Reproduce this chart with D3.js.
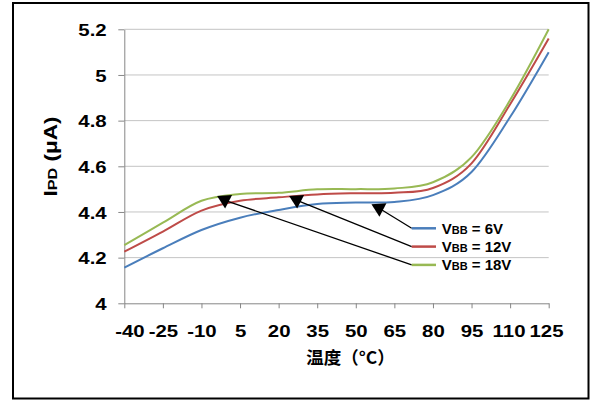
<!DOCTYPE html>
<html>
<head>
<meta charset="utf-8">
<script src="https://cdn.jsdelivr.net/npm/d3@7"></script>
<style>
  body { margin: 0; background: #fff; }
  svg { display: block; }
</style>
</head>
<body>
<svg id="chart" width="590" height="400"></svg>
<script>
// Photodiode current vs. temperature for three bias voltages
const temps  = [-40, -25, -10, 5, 20, 35, 50, 65, 80, 95, 110, 125];
const ipd6V  = [4.156, 4.241, 4.321, 4.375, 4.409, 4.435, 4.441, 4.444, 4.474, 4.575, 4.816, 5.10];
const ipd12V = [4.226, 4.314, 4.406, 4.449, 4.464, 4.477, 4.482, 4.484, 4.505, 4.613, 4.872, 5.16];
const ipd18V = [4.255, 4.353, 4.449, 4.479, 4.484, 4.499, 4.500, 4.503, 4.530, 4.640, 4.890, 5.20];
const yTicks = [4, 4.2, 4.4, 4.6, 4.8, 5, 5.2];
const seriesNames  = ["6V", "12V", "18V"];
const seriesColors = ["#4A7EBB", "#BE4B48", "#98B954"];
// callout arrows: the curve point each legend entry points at
const calloutTemps  = [59, 27, -1];
const calloutValues = [4.436, 4.472, 4.472];

const series = [ipd6V, ipd12V, ipd18V];

const svg = d3.select("#chart");
const plot = { left: 124.3, right: 548.7, top: 29.3, bottom: 303.3 };
const latin = "'Liberation Sans', Arial, sans-serif";
const stretch = 1.2;   // wide bold face used for axis text

// outer frame
svg.append("rect")
  .attr("x", 13).attr("y", 3)
  .attr("width", 575.5).attr("height", 395.5)
  .attr("fill", "#fff").attr("stroke", "#000").attr("stroke-width", 2);

const x = d3.scaleLinear().domain([-40, 125]).range([plot.left, plot.right]);
const y = d3.scaleLinear().domain([4, 5.2]).range([plot.bottom, plot.top]);

// horizontal gridlines
svg.append("g")
  .selectAll("line")
  .data(yTicks.filter(v => v !== 4))
  .join("line")
  .attr("x1", x(-40)).attr("x2", x(125))
  .attr("y1", d => y(d)).attr("y2", d => y(d))
  .attr("stroke", "#C4C4C4").attr("stroke-width", 1);

// y axis
const yAxis = svg.append("g")
  .attr("transform", `translate(${plot.left},0)`)
  .call(d3.axisLeft(y).tickValues(yTicks).tickSize(6).tickSizeOuter(0)
    .tickFormat(d => String(+d.toFixed(1))));
yAxis.select(".domain").attr("stroke", "#868686");
yAxis.selectAll(".tick line").attr("stroke", "#868686");
yAxis.selectAll(".tick text")
  .attr("x", 0).attr("dy", "0.36em")
  .attr("transform", `translate(-17.6,0) scale(${stretch},1)`)
  .attr("font-family", latin).attr("font-weight", "bold")
  .attr("font-size", 17).attr("fill", "#000");

// x axis
const xAxis = svg.append("g")
  .attr("transform", `translate(0,${plot.bottom})`)
  .call(d3.axisBottom(x).tickValues(temps).tickSize(5).tickSizeOuter(0)
    .tickFormat(d => String(d)));
xAxis.select(".domain").attr("stroke", "#868686");
xAxis.selectAll(".tick line").attr("stroke", "#868686");
const xLabels = xAxis.selectAll(".tick text")
  .attr("y", 0).attr("dy", 0)
  .attr("font-family", latin).attr("font-weight", "bold")
  .attr("font-size", 17).attr("fill", "#000")
  .attr("transform", `translate(0,33.2) scale(${stretch},1)`);

// keep the end labels inside the frame and apart from their neighbours
(function spreadLabels() {
  const nodes = xLabels.nodes();
  const boxes = nodes.map(n => {
    const r = n.getBoundingClientRect();
    return { left: r.left, right: r.right, shift: 0 };
  });
  const minLeft = 120, maxRight = 563.5, gap = 4;
  const first = boxes[0], last = boxes[boxes.length - 1];
  if (first.left < minLeft) first.shift = minLeft - first.left;
  if (last.right > maxRight) last.shift = maxRight - last.right;
  for (let i = boxes.length - 2; i >= 0; i--) {
    const nextLeft = boxes[i + 1].left + boxes[i + 1].shift;
    const over = boxes[i].right + boxes[i].shift + gap - nextLeft;
    if (over > 0) boxes[i].shift -= over;
  }
  nodes.forEach((n, i) => {
    d3.select(n).attr("transform",
      `translate(${boxes[i].shift},33.2) scale(${stretch},1)`);
  });
})();

// series curves
const line = d3.line()
  .x((d, i) => x(temps[i]))
  .y(d => y(d))
  .curve(d3.curveCardinal.tension(0));

svg.append("g")
  .selectAll("path")
  .data(series)
  .join("path")
  .attr("d", d => line(d))
  .attr("fill", "none")
  .attr("stroke", (d, i) => seriesColors[i])
  .attr("stroke-width", 2);

// legend
const legend = { x0: 411.7, x1: 436, textX: 441.7, top: 228.3, step: 18.3 };
const legendY = i => legend.top + i * legend.step;

// callout arrows from each legend entry to its curve
const callouts = svg.append("g");
seriesNames.forEach((name, i) => {
  const cx = x(calloutTemps[i]);
  const cy = y(calloutValues[i]);
  callouts.append("line")
    .attr("x1", cx + 1).attr("y1", cy + 5)
    .attr("x2", legend.x0).attr("y2", legendY(i))
    .attr("stroke", "#000").attr("stroke-width", 1.3);
  callouts.append("path")
    .attr("d", `M${cx - 7.5},${cy + 0.5} L${cx + 7.5},${cy - 0.5} L${cx + 0.5},${cy + 13} Z`)
    .attr("fill", "#000");
});

const legendG = svg.append("g");
seriesNames.forEach((name, i) => {
  legendG.append("line")
    .attr("x1", legend.x0).attr("x2", legend.x1)
    .attr("y1", legendY(i)).attr("y2", legendY(i))
    .attr("stroke", seriesColors[i]).attr("stroke-width", 2.5);
  const t = legendG.append("text")
    .attr("x", legend.textX).attr("y", legendY(i) + 5.5)
    .attr("font-family", latin).attr("font-weight", "bold")
    .attr("font-size", 15).attr("fill", "#000");
  t.append("tspan").text("V");
  t.append("tspan").attr("font-size", 11).text("BB");
  t.append("tspan").text(" = " + name);
});

// axis titles
svg.append("text")
  .attr("x", 350.5).attr("y", 363.5)
  .attr("text-anchor", "middle")
  .attr("font-family", "'Noto Sans CJK SC', sans-serif")
  .attr("font-weight", "bold").attr("font-size", 17.5).attr("fill", "#000")
  .text("温度（°C）");

const yTitle = svg.append("text")
  .attr("transform", `translate(57,156.5) rotate(-90) scale(1.25,1)`)
  .attr("text-anchor", "middle")
  .attr("font-family", latin).attr("font-weight", "bold")
  .attr("font-size", 18).attr("fill", "#000");
yTitle.append("tspan").text("I");
yTitle.append("tspan").attr("font-size", 13).text("PD");
yTitle.append("tspan").text(" (μA)");
</script>
</body>
</html>
